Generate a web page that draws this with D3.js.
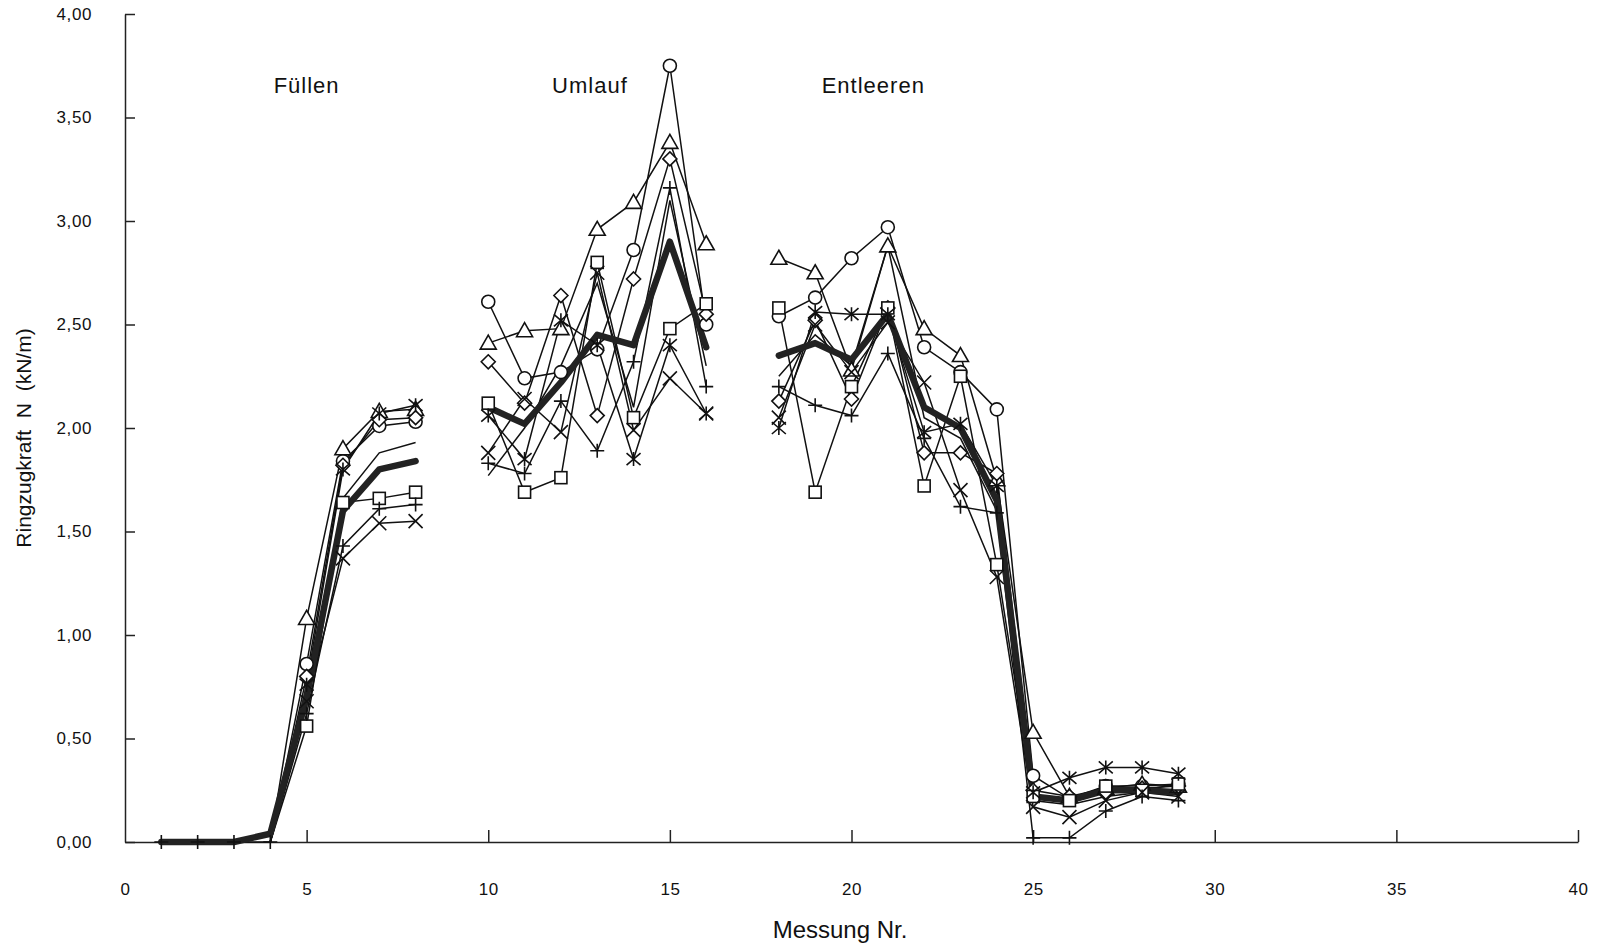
<!DOCTYPE html>
<html>
<head>
<meta charset="utf-8">
<script src="https://cdn.jsdelivr.net/npm/d3@7"></script>
<style>
  body { margin: 0; background: #fff; }
  svg { display: block; }
  .tick text { font-family: "Liberation Sans", Arial, sans-serif; fill: #111; }
</style>
</head>
<body>
<div id="chart"></div>
<script>
// Messung Nr. 1..29, null = keine Messung (Lücke zwischen den Phasen)
const messungNr = d3.range(1, 30);
const n = null;

const kreis   = [n, n, n, 0, 0.86, 1.84, 2.01, 2.03, n, 2.61, 2.24, 2.27, 2.38, 2.86, 3.75, 2.50, n, 2.54, 2.63, 2.82, 2.97, 2.39, 2.27, 2.09, 0.32, 0.21, 0.27, 0.27, 0.28];
const dreieck = [n, n, n, 0, 1.08, 1.90, 2.08, 2.09, n, 2.41, 2.47, 2.48, 2.96, 3.09, 3.38, 2.89, n, 2.82, 2.75, 2.28, 2.88, 2.48, 2.35, 1.75, 0.53, 0.22, 0.26, 0.28, 0.27];
const raute   = [n, n, n, 0, 0.80, 1.82, 2.04, 2.05, n, 2.32, 2.12, 2.64, 2.06, 2.72, 3.30, 2.55, n, 2.13, 2.52, 2.14, 2.58, 1.88, 1.88, 1.78, 0.25, 0.22, 0.24, 0.26, 0.27];
const quadrat = [n, n, n, 0, 0.56, 1.64, 1.66, 1.69, n, 2.12, 1.69, 1.76, 2.80, 2.05, 2.48, 2.60, n, 2.58, 1.69, 2.20, 2.58, 1.72, 2.25, 1.34, 0.22, 0.20, 0.27, 0.25, 0.28];
const plus    = [0, 0, 0, 0, 0.62, 1.43, 1.61, 1.63, n, 1.83, 1.78, 2.13, 1.89, 2.32, 3.16, 2.20, n, 2.20, 2.11, 2.06, 2.36, 1.95, 1.62, 1.59, 0.02, 0.02, 0.15, 0.22, 0.20];
const kreuz   = [n, n, n, 0, 0.68, 1.37, 1.54, 1.55, n, 1.88, 2.14, 1.98, 2.75, 1.99, 2.24, 2.07, n, 2.05, 2.50, 2.27, 2.51, 2.22, 1.70, 1.28, 0.17, 0.12, 0.20, 0.24, 0.22];
const stern   = [n, n, n, 0, 0.76, 1.80, 2.07, 2.11, n, 2.06, 1.85, 2.52, 2.40, 1.85, 2.40, 2.07, n, 2.00, 2.56, 2.55, 2.55, 1.98, 2.02, 1.72, 0.24, 0.31, 0.36, 0.36, 0.33];
const ohne    = [n, n, n, 0, 0.66, 1.66, 1.88, 1.93, n, 1.77, 2.00, 2.30, 2.70, 2.10, 3.10, 2.30, n, 2.25, 2.45, 2.30, 2.88, 2.05, 1.95, 1.60, 0.20, 0.18, 0.22, 0.24, 0.23];
const mittel  = [0, 0, 0, 0.04, 0.70, 1.60, 1.80, 1.84, n, 2.10, 2.02, 2.22, 2.45, 2.40, 2.90, 2.39, n, 2.35, 2.41, 2.33, 2.55, 2.10, 2.00, 1.65, 0.22, 0.20, 0.25, 0.25, 0.24];

const phasen = ['Füllen', 'Umlauf', 'Entleeren'];
const phasenNr = [5, 12.8, 20.6];
const yTicks = [0, 0.5, 1, 1.5, 2, 2.5, 3, 3.5, 4];
const xTicks = [0, 5, 10, 15, 20, 25, 30, 35, 40];

const series = [
  { values: ohne, marker: null },
  { values: kreis, marker: 'circle' },
  { values: dreieck, marker: 'triangle' },
  { values: raute, marker: 'diamond' },
  { values: quadrat, marker: 'square' },
  { values: kreuz, marker: 'cross' },
  { values: stern, marker: 'star' },
  { values: plus, marker: 'plus', showZero: true },
];

const width = 1597;
const height = 949;

const svg = d3.select('#chart')
  .append('svg')
  .attr('width', width)
  .attr('height', height);

const x = d3.scaleLinear().domain([0, 40]).range([125, 1578]);
const y = d3.scaleLinear().domain([0, 4]).range([842, 14]);

const fmt = (v) => d3.format('.2f')(v).replace('.', ',');

// axes
const yAxis = svg.append('g')
  .attr('transform', `translate(${x(0)},0)`)
  .call(d3.axisLeft(y).tickValues(yTicks).tickFormat(fmt)
    .tickSizeInner(-10).tickSizeOuter(0).tickPadding(33));
yAxis.selectAll('text').style('font-size', '17px').style('letter-spacing', '0.6px');

const xAxis = svg.append('g')
  .attr('transform', `translate(0,${y(0)})`)
  .call(d3.axisBottom(x).tickValues(xTicks).tickFormat(d3.format('d'))
    .tickSizeInner(-12).tickSizeOuter(0).tickPadding(41));
xAxis.selectAll('text').style('font-size', '17px').style('letter-spacing', '0.5px');
xAxis.selectAll('.tick').filter((d) => d === 0).select('line').remove();

svg.selectAll('.domain, .tick line')
  .attr('stroke', '#222')
  .attr('stroke-width', 1.5);

// axis titles
svg.append('text')
  .attr('x', 840)
  .attr('y', 938)
  .attr('text-anchor', 'middle')
  .style('font-family', '"Liberation Sans Narrow", "Arial Narrow", sans-serif')
  .style('font-size', '24px')
  .attr('fill', '#111')
  .text('Messung Nr.');

svg.append('text')
  .attr('transform', 'translate(31,438) rotate(-90)')
  .attr('text-anchor', 'middle')
  .style('font-family', '"Liberation Sans Narrow", "Arial Narrow", sans-serif')
  .style('font-size', '21px')
  .style('white-space', 'pre')
  .attr('fill', '#111')
  .text('Ringzugkraft  N  (kN/m)');

// phase labels
svg.selectAll('.phase')
  .data(phasen)
  .join('text')
  .attr('class', 'phase')
  .attr('x', (d, i) => x(phasenNr[i]))
  .attr('y', 93)
  .attr('text-anchor', 'middle')
  .style('font-family', '"Liberation Sans", Arial, sans-serif')
  .style('font-size', '22px')
  .style('letter-spacing', '1px')
  .attr('fill', '#111')
  .text((d) => d);

const line = d3.line()
  .defined((d) => d.v != null)
  .x((d) => x(d.nr))
  .y((d) => y(d.v));

const pts = (values) => messungNr.map((nr, i) => ({ nr, v: values[i] }));

// thin series
svg.append('g')
  .selectAll('path')
  .data(series)
  .join('path')
  .attr('d', (s) => line(pts(s.values)))
  .attr('fill', 'none')
  .attr('stroke', '#111')
  .attr('stroke-width', 1.5);

// Mittelwert (dicke Linie)
svg.append('path')
  .attr('d', line(pts(mittel)))
  .attr('fill', 'none')
  .attr('stroke', '#222')
  .attr('stroke-width', 6.5)
  .attr('stroke-linejoin', 'round')
  .attr('stroke-linecap', 'round');

// markers
function drawMarker(g, type) {
  const s = 7;
  if (type === 'circle') {
    g.append('circle').attr('r', 6.5).attr('fill', '#fff');
  } else if (type === 'triangle') {
    g.append('path').attr('d', `M0,${-s - 1}L${s + 1},${s - 1}L${-s - 1},${s - 1}Z`).attr('fill', '#fff');
  } else if (type === 'diamond') {
    g.append('path').attr('d', `M0,${-s}L${s},0L0,${s}L${-s},0Z`).attr('fill', '#fff');
  } else if (type === 'square') {
    g.append('rect').attr('x', -6).attr('y', -6).attr('width', 12).attr('height', 12).attr('fill', '#fff');
  } else if (type === 'plus') {
    g.append('path').attr('d', `M${-s},0H${s}M0,${-s}V${s}`);
  } else if (type === 'cross') {
    g.append('path').attr('d', `M${-s},${-s}L${s},${s}M${s},${-s}L${-s},${s}`);
  } else if (type === 'star') {
    g.append('path').attr('d', `M${-s},${-s + 1}L${s},${s - 1}M${s},${-s + 1}L${-s},${s - 1}M0,${-s}V${s}`);
  }
  g.selectAll('*').attr('stroke', '#111').attr('stroke-width', 1.6);
}

series.filter((s) => s.marker).forEach((s) => {
  const g = svg.append('g');
  pts(s.values)
    .filter((d) => d.v != null && (d.v > 0 || s.showZero))
    .forEach((d) => {
      const m = g.append('g').attr('transform', `translate(${x(d.nr)},${y(d.v)})`);
      drawMarker(m, s.marker);
    });
});
</script>
</body>
</html>
